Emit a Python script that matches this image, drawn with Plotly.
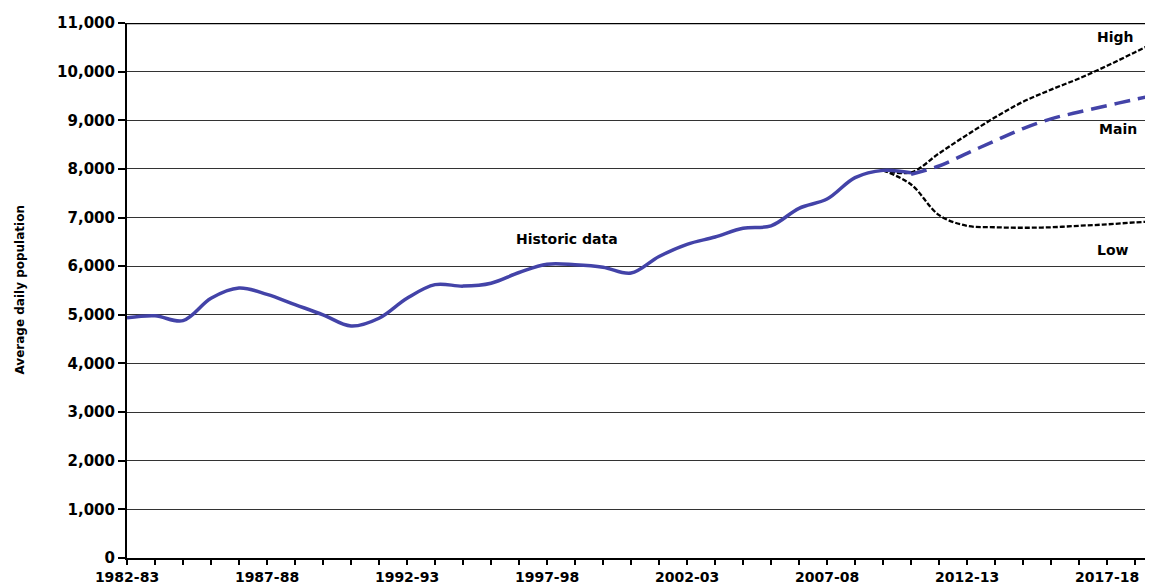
import plotly.graph_objects as go

# Categories (financial years)
years = [f"{y}-{str(y + 1)[-2:]}" for y in range(1982, 2020)]

# Historic data (1982-83 .. 2010-11)
historic = [4940, 4980, 4880, 5340, 5550, 5420, 5210, 5000, 4770, 4930,
            5340, 5620, 5590, 5650, 5870, 6040, 6030, 5980, 5860, 6200,
            6450, 6600, 6780, 6830, 7190, 7380, 7820, 7970, 7920]

# Projections (2009-10 .. 2019-20)
proj_start = 27
high = [7970, 7930, 8320, 8700, 9060, 9380, 9630, 9860, 10120, 10400, 10680]
main = [7970, 7890, 8060, 8320, 8580, 8830, 9030, 9170, 9300, 9430, 9550]
low = [7970, 7680, 7050, 6830, 6800, 6790, 6800, 6830, 6860, 6900, 6930]

label_years = [y for y in years if int(y[:4]) % 5 == 2]

BLUE = "#4343A8"
FONT = "DejaVu Sans"

x_hist = list(range(len(historic)))
x_proj = list(range(proj_start, proj_start + len(high)))

fig = go.Figure()
fig.add_trace(go.Scatter(x=x_proj, y=low, mode="lines", line=dict(color="black", width=2.3, dash="5px,2px", shape="spline"), name="Low"))
fig.add_trace(go.Scatter(x=x_proj, y=high, mode="lines", line=dict(color="black", width=2.3, dash="5px,2px", shape="spline"), name="High"))
fig.add_trace(go.Scatter(x=x_hist, y=historic, mode="lines", line=dict(color=BLUE, width=3.5, shape="spline"), name="Historic data"))
fig.add_trace(go.Scatter(x=x_proj[1:], y=main[1:], mode="lines", line=dict(color=BLUE, width=3.5, dash="16px,8px", shape="spline"), name="Main"))

tickvals = list(range(len(years)))
ticktext = [y if y in label_years else "" for y in years]

fig.update_layout(
    width=1145, height=578,
    margin=dict(l=119, r=0, t=15, b=28),
    plot_bgcolor="white", paper_bgcolor="white",
    showlegend=False,
    font=dict(family=FONT, color="black"),
    xaxis=dict(range=[0, 36.64], tickvals=tickvals, ticktext=ticktext,
               showgrid=False, zeroline=False, showline=True, linecolor="black", linewidth=2,
               ticks="outside", ticklen=5, tickwidth=2, tickcolor="black",
               tickfont=dict(family=FONT, size=14, color="black", weight="bold"), tickangle=0),
    yaxis=dict(range=[0, 11000], dtick=1000, tickformat=",d",
               showgrid=True, gridcolor="#333333", gridwidth=1.3, zeroline=False,
               showline=True, linecolor="black", linewidth=2,
               ticks="outside", ticklen=7, tickwidth=1.5, tickcolor="black",
               tickfont=dict(family=FONT, size=15, color="black", weight="bold")),
    shapes=[dict(type="line", xref="paper", yref="y", x0=0, x1=1, y0=11000, y1=11000,
                 line=dict(color="black", width=2.5))],
)

ann_font = dict(family=FONT, size=14, color="black", weight="bold")
fig.add_annotation(x=15.7, y=6550, text="Historic data", showarrow=False, font=ann_font)
fig.add_annotation(x=35.3, y=10710, text="High", showarrow=False, font=ann_font)
fig.add_annotation(x=35.4, y=8830, text="Main", showarrow=False, font=ann_font)
fig.add_annotation(x=35.2, y=6340, text="Low", showarrow=False, font=ann_font)
fig.add_annotation(xref="paper", yref="paper", x=(19 - 127) / 1026, xanchor="center", y=0.5, text="Average daily population",
                   textangle=-90, showarrow=False, font=dict(family=FONT, size=12, color="black", weight="bold"))

fig.write_html("out.html")
